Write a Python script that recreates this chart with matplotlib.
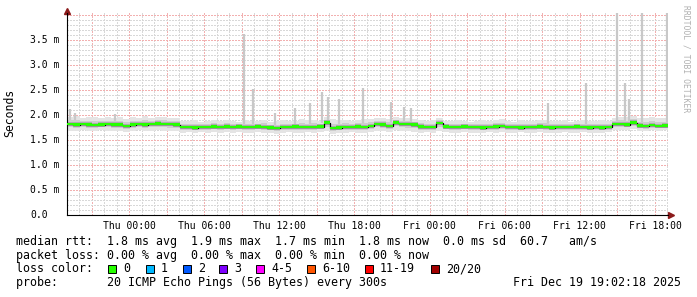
import numpy as np
import matplotlib
matplotlib.use('Agg')
import matplotlib.pyplot as plt
from matplotlib.patches import Rectangle
import matplotlib.transforms as mtransforms

# ---------------- data (ms, hours relative to Thu 00:00) ----------------
t_start_h = -4.96
t_end_h = 43.04
step_h = 0.5

median_ms = [
    1.82, 1.81, 1.82, 1.81, 1.80, 1.81, 1.82, 1.81, 1.81, 1.78,
    1.81, 1.82, 1.81, 1.82, 1.83, 1.82, 1.82, 1.81, 1.76, 1.76,
    1.75, 1.76, 1.76, 1.77, 1.76, 1.77, 1.76, 1.77, 1.76, 1.76,
    1.77, 1.76, 1.75, 1.74, 1.76, 1.76, 1.77, 1.76, 1.76, 1.76,
    1.77, 1.85, 1.74, 1.75, 1.76, 1.76, 1.77, 1.76, 1.78, 1.82,
    1.81, 1.78, 1.85, 1.82, 1.82, 1.81, 1.77, 1.76, 1.76, 1.84,
    1.77, 1.76, 1.76, 1.77, 1.76, 1.76, 1.75, 1.76, 1.77, 1.78,
    1.76, 1.76, 1.75, 1.76, 1.76, 1.77, 1.76, 1.75, 1.76, 1.76,
    1.76, 1.77, 1.76, 1.75, 1.76, 1.75, 1.76, 1.82, 1.82, 1.81,
    1.85, 1.79, 1.78, 1.80, 1.78, 1.79, 1.79,
]
smoke_hi_ms = [
    1.97, 1.99, 1.95, 1.96, 1.97, 1.94, 1.96, 1.95, 1.97, 1.93,
    1.96, 1.95, 1.98, 1.94, 1.96, 1.97, 1.95, 1.94, 1.89, 1.88,
    1.90, 1.87, 1.89, 1.91, 1.88, 1.90, 1.89, 1.87, 1.90, 1.88,
    1.89, 1.91, 1.87, 1.88, 1.90, 1.89, 1.88, 1.92, 1.90, 1.91,
    1.89, 1.96, 1.92, 1.90, 1.91, 1.89, 1.90, 1.92, 1.93, 1.95,
    1.94, 1.93, 1.97, 1.95, 1.94, 1.93, 1.90, 1.89, 1.90, 1.95,
    1.89, 1.88, 1.90, 1.89, 1.87, 1.88, 1.90, 1.89, 1.91, 1.92,
    1.89, 1.87, 1.90, 1.89, 1.88, 1.90, 1.91, 1.89, 1.88, 1.90,
    1.87, 1.89, 1.90, 1.88, 1.89, 1.91, 1.88, 1.95, 1.97, 1.96,
    1.98, 1.94, 1.95, 1.96, 1.94, 1.95, 1.95,
]
smoke_lo_ms = [
    1.69, 1.68, 1.70, 1.69, 1.68, 1.70, 1.69, 1.68, 1.69, 1.67,
    1.69, 1.70, 1.68, 1.69, 1.70, 1.69, 1.68, 1.69, 1.65, 1.66,
    1.64, 1.66, 1.65, 1.66, 1.64, 1.66, 1.65, 1.66, 1.64, 1.65,
    1.66, 1.65, 1.64, 1.63, 1.65, 1.66, 1.65, 1.64, 1.66, 1.65,
    1.66, 1.68, 1.63, 1.64, 1.65, 1.66, 1.65, 1.64, 1.66, 1.69,
    1.68, 1.67, 1.70, 1.69, 1.68, 1.67, 1.65, 1.66, 1.65, 1.68,
    1.66, 1.65, 1.64, 1.66, 1.65, 1.64, 1.65, 1.66, 1.65, 1.66,
    1.64, 1.65, 1.66, 1.65, 1.64, 1.66, 1.65, 1.64, 1.65, 1.66,
    1.65, 1.64, 1.66, 1.65, 1.64, 1.65, 1.66, 1.70, 1.71, 1.70,
    1.72, 1.69, 1.68, 1.70, 1.69, 1.70, 1.70,
]
spike_t_h = [-4.72, -4.32, -1.12, 9.20, 9.92, 11.68, 13.28, 14.48, 15.44, 15.92,
             16.80, 18.72, 20.88, 21.92, 22.48, 33.44, 36.48, 38.96, 39.60, 39.92,
             40.96, 42.96]
spike_top_ms = [2.12, 2.05, 2.02, 3.62, 2.52, 2.04, 2.14, 2.24, 2.46, 2.36,
                2.32, 2.54, 2.26, 2.16, 2.14, 2.24, 2.64, 4.10, 2.64, 2.32,
                4.10, 4.10]

xtick_pos_h = [0, 6, 12, 18, 24, 30, 36, 42]
xtick_labels = ['Thu 00:00', 'Thu 06:00', 'Thu 12:00', 'Thu 18:00',
                'Fri 00:00', 'Fri 06:00', 'Fri 12:00', 'Fri 18:00']
ytick_vals = [0.0, 0.5, 1.0, 1.5, 2.0, 2.5, 3.0, 3.5]
ytick_labels = ['0.0', '0.5 m', '1.0 m', '1.5 m', '2.0 m', '2.5 m', '3.0 m', '3.5 m']

loss_labels = ['0', '1', '2', '3', '4-5', '6-10', '11-19', '20/20']
loss_colors = ['#26ff00', '#00b8ff', '#0059ff', '#7e00ff', '#ff00ff',
               '#ff5500', '#ff0000', '#a10000']

row_rtt = 'median rtt:  1.8 ms avg  1.9 ms max  1.7 ms min  1.8 ms now  0.0 ms sd  60.7   am/s'
row_loss = 'packet loss: 0.00 % avg  0.00 % max  0.00 % min  0.00 % now'
row_color = 'loss color:'
row_probe = 'probe:       20 ICMP Echo Pings (56 Bytes) every 300s'
stamp = 'Fri Dec 19 19:02:18 2025'

# ---------------- figure ----------------
W, H = 697, 297
MONO = 'DejaVu Sans Mono'
fig = plt.figure(figsize=(W / 100, H / 100), dpi=100)
fig.patch.set_facecolor('white')
ax_l, ax_r, ax_t, ax_b = 67, 668, 13, 215
ax = fig.add_axes([ax_l / W, (H - ax_b) / H, (ax_r - ax_l) / W, (ax_b - ax_t) / H])
ax.set_facecolor('white')
ymax = 4.04
ax.set_xlim(t_start_h, t_end_h)
ax.set_ylim(0, ymax)

# grid (dotted, crisp)
dot = (0, (1.4, 1.4))
for h in range(int(np.ceil(t_start_h)), int(t_end_h) + 1):
    major = (h % 3 == 0)
    ax.axvline(h, color='#f2b0b0' if major else '#d8d8d8', lw=0.72, ls=dot,
               antialiased=False, zorder=0)
for k in range(1, int(ymax * 10) + 1):
    major = (k % 5 == 0)
    ax.axhline(k / 10, color='#f2b0b0' if major else '#d8d8d8', lw=0.72, ls=dot,
               antialiased=False, zorder=0)

t = t_start_h + step_h * np.arange(len(median_ms))
med = np.array(median_ms)
lo = np.array(smoke_lo_ms)
hi = np.array(smoke_hi_ms)

# smoke: outer, middle and inner shades
ax.fill_between(t, lo, hi, step='post', color='#e4e4e4', lw=0, zorder=1)
base = np.interp(spike_t_h, t, med)
ax.vlines(spike_t_h, base, spike_top_ms, color='#c8c8c8', lw=1.6, zorder=1)
ax.fill_between(t, (lo + med) / 2, (hi + med) / 2, step='post', color='#cdcdcd', lw=0, zorder=2)
ax.fill_between(t, med - 0.045, med + 0.045, step='post', color='#acacac', lw=0, zorder=2)

# median: black line with loss-coloured band
ax.step(t, med, where='post', color='black', lw=0.9, zorder=3)
ax.fill_between(t, med - 0.025, med + 0.025, step='post', color=loss_colors[0], lw=0, zorder=4)

# axes styling
for s in ['top', 'right']:
    ax.spines[s].set_visible(False)
for s in ['left', 'bottom']:
    ax.spines[s].set_color('black')
    ax.spines[s].set_linewidth(0.8)
ax.set_yticks([])
ax.set_xticks(xtick_pos_h)
ax.set_xticklabels(xtick_labels, fontsize=7, family=MONO)
ax.tick_params(axis='x', length=0, pad=4)

# y tick labels
ytrans = mtransforms.blended_transform_factory(fig.transFigure, ax.transData)
for v, lab in zip(ytick_vals, ytick_labels):
    ax.text(30 / W, v, lab, transform=ytrans, ha='left', va='center',
            fontsize=7, family=MONO, clip_on=False)

# arrows
arrow_c = '#8b1a1a'
off_up = mtransforms.ScaledTranslation(0, 2.5 / 100, fig.dpi_scale_trans)
off_rt = mtransforms.ScaledTranslation(2.5 / 100, 0, fig.dpi_scale_trans)
ax.plot([0], [1], marker='^', ms=4.2, color=arrow_c, transform=ax.transAxes + off_up, clip_on=False)
ax.plot([1], [0], marker='>', ms=4.2, color=arrow_c, transform=ax.transAxes + off_rt, clip_on=False)

# y axis title
fig.text(10 / W, 1 - 113 / H, 'Seconds', rotation=90, ha='center', va='center',
         fontsize=8.3, family=MONO)
# watermark
fig.text(686 / W, 1 - 5 / H, 'RRDTOOL / TOBI OETIKER', rotation=-90, ha='center', va='top',
         fontsize=5.8, family=MONO, color='#b0b0b0')

# legend rows
LF = 8.4
fig.text(16 / W, 1 - 241.5 / H, row_rtt, ha='left', va='center', fontsize=LF, family=MONO)
fig.text(16 / W, 1 - 255.3 / H, row_loss, ha='left', va='center', fontsize=LF, family=MONO)
fig.text(16 / W, 1 - 269 / H, row_color, ha='left', va='center', fontsize=LF, family=MONO)
fig.text(16 / W, 1 - 282.8 / H, row_probe, ha='left', va='center', fontsize=LF, family=MONO)
fig.text(513 / W, 1 - 282.8 / H, stamp, ha='left', va='center', fontsize=LF, family=MONO)

box_x = [108, 146, 183, 219, 256, 307, 365, 431]
for bx, lab, col in zip(box_x, loss_labels, loss_colors):
    fig.add_artist(Rectangle((bx / W, 1 - 273 / H), 8 / W, 8 / H, transform=fig.transFigure,
                             facecolor=col, edgecolor='black', lw=0.7))
    fig.text((bx + 15) / W, 1 - 269 / H, lab, ha='left', va='center', fontsize=LF, family=MONO)

fig.savefig('out.png', dpi=100)
